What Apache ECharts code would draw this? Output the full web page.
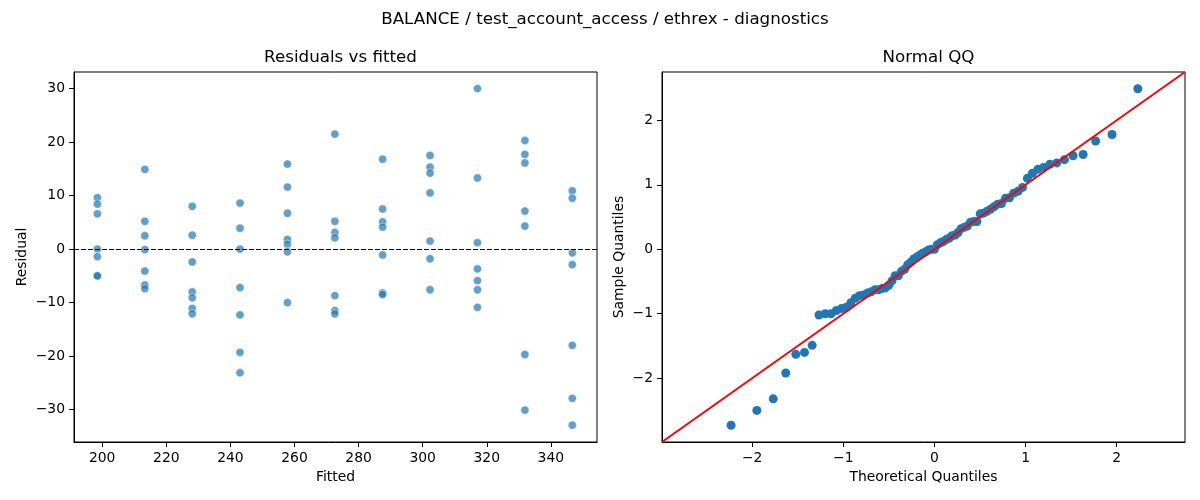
<!DOCTYPE html>
<html lang="en">
<head>
<meta charset="UTF-8">
<title>BALANCE / test_account_access / ethrex - diagnostics</title>
<script src="https://cdn.jsdelivr.net/npm/echarts@6.0.0/dist/echarts.min.js"></script>
<style>
    body {
        margin: 0;
        padding: 0;
        background: #fff;
    }

    #main {
        width: 1200px;
        height: 500px;
    }
</style>
</head>
<body>
<div id="main"></div>
<script>
    // fitted value of each group (x of the left panel)
    var fitted = [198.5, 213.3, 228.1, 243.0, 257.8, 272.6, 287.5, 302.3, 317.1, 331.9, 346.7];

    // residuals read per fitted group
    var residuals = [
        [9.6, 8.4, 6.6, 0.0, -1.4, -5.0, -5.0],
        [14.9, 5.2, 2.5, -0.1, -4.1, -6.7, -7.4],
        [8.0, 2.6, -2.4, -8.0, -9.1, -11.1, -12.1],
        [8.6, 3.9, 0.0, -7.2, -12.3, -19.3, -23.1],
        [15.9, 11.6, 6.7, 1.8, 0.9, -0.5, -10.0],
        [21.5, 5.2, 3.1, 2.1, -8.7, -11.5, -12.1],
        [16.8, 7.5, 5.1, 4.1, -1.1, -8.2, -8.5],
        [17.5, 15.3, 14.2, 10.5, 1.5, -1.8, -7.6],
        [30.0, 13.3, 1.2, -3.7, -5.9, -7.6, -10.9],
        [20.3, 17.7, 16.1, 7.1, 4.3, -19.7, -30.1],
        [10.9, 9.5, -0.7, -2.9, -18.0, -27.9, -32.9]
    ];

    // normal QQ: theoretical and sample quantiles
    var theoQ = [
        -2.232, -1.949, -1.769, -1.632, -1.521, -1.426, -1.342, -1.267, -1.198, -1.135,
        -1.076, -1.020, -0.967, -0.917, -0.869, -0.823, -0.779, -0.736, -0.695, -0.654,
        -0.615, -0.577, -0.539, -0.502, -0.466, -0.431, -0.396, -0.361, -0.327, -0.293,
        -0.260, -0.227, -0.194, -0.161, -0.129, -0.097, -0.064, -0.032, 0.000, 0.032,
        0.064, 0.097, 0.129, 0.161, 0.194, 0.227, 0.260, 0.293, 0.327, 0.361,
        0.396, 0.431, 0.466, 0.502, 0.539, 0.577, 0.615, 0.654, 0.695, 0.736,
        0.779, 0.823, 0.869, 0.917, 0.967, 1.020, 1.076, 1.135, 1.198, 1.267,
        1.342, 1.426, 1.521, 1.632, 1.769, 1.949, 2.232
    ];
    var sampleQ = [
        -2.73, -2.50, -2.32, -1.92, -1.63, -1.60, -1.49, -1.02, -1.00, -1.00,
        -0.95, -0.92, -0.90, -0.83, -0.76, -0.72, -0.71, -0.68, -0.66, -0.63,
        -0.63, -0.61, -0.60, -0.56, -0.49, -0.41, -0.41, -0.34, -0.31, -0.24,
        -0.20, -0.15, -0.12, -0.09, -0.06, -0.04, -0.01, 0.00, 0.00, 0.07,
        0.10, 0.12, 0.15, 0.17, 0.21, 0.22, 0.26, 0.32, 0.34, 0.36,
        0.42, 0.43, 0.43, 0.55, 0.56, 0.59, 0.62, 0.66, 0.70, 0.71,
        0.79, 0.80, 0.87, 0.90, 0.96, 1.10, 1.18, 1.24, 1.27, 1.32,
        1.34, 1.39, 1.45, 1.47, 1.68, 1.78, 2.49
    ];

    // tick labels
    var fittedTicks = [200, 220, 240, 260, 280, 300, 320, 340];
    var residTicks = [-30, -20, -10, 0, 10, 20, 30];
    var qqTicks = [-2, -1, 0, 1, 2];

    // axis limits
    var fittedRange = [191.2, 354.4];
    var residRange = [-36.05, 33.1];
    var qqRange = [-2.99, 2.75];

    var FONT = 'DejaVu Sans';

    var residData = [];
    fitted.forEach(function (f, i) {
        residuals[i].forEach(function (r) {
            residData.push([f, r]);
        });
    });

    var qqData = theoQ.map(function (t, i) {
        return [t, sampleQ[i]];
    });

    function makeAxis(gridIndex, range, ticks, name, nameGap) {
        return {
            type: 'value',
            gridIndex: gridIndex,
            min: range[0],
            max: range[1],
            name: name,
            nameLocation: 'middle',
            nameGap: nameGap,
            nameTextStyle: { color: '#000', fontSize: 13.9, fontFamily: FONT },
            axisLine: { show: true, onZero: false, lineStyle: { color: '#000', width: 1 } },
            axisTick: {
                show: true,
                length: 5,
                customValues: ticks,
                lineStyle: { color: '#000', width: 1 }
            },
            axisLabel: {
                color: '#000',
                fontSize: 13.9,
                fontFamily: FONT,
                margin: 9,
                customValues: ticks,
                formatter: function (v) {
                    return String(v).replace('-', '\u2212');
                }
            },
            splitLine: { show: false }
        };
    }

    var chart = echarts.init(document.getElementById('main'), null, { renderer: 'canvas' });

    var option = {
        animation: false,
        backgroundColor: '#fff',
        textStyle: { fontFamily: FONT },
        title: [
            {
                text: 'BALANCE / test_account_access / ethrex - diagnostics',
                left: 600,
                textAlign: 'center',
                top: 6,
                textStyle: { color: '#000', fontSize: 16.7, fontWeight: 'normal', fontFamily: FONT }
            },
            {
                text: 'Residuals vs fitted',
                left: 335.5,
                textAlign: 'center',
                top: 44,
                textStyle: { color: '#000', fontSize: 16.7, fontWeight: 'normal', fontFamily: FONT }
            },
            {
                text: 'Normal QQ',
                left: 923.5,
                textAlign: 'center',
                top: 44,
                textStyle: { color: '#000', fontSize: 16.7, fontWeight: 'normal', fontFamily: FONT }
            }
        ],
        grid: [
            { left: 74, top: 72, width: 523, height: 370, show: true, borderColor: '#000', borderWidth: 1 },
            { left: 662, top: 72, width: 523, height: 370, show: true, borderColor: '#000', borderWidth: 1 }
        ],
        xAxis: [
            makeAxis(0, fittedRange, fittedTicks, 'Fitted', 28),
            makeAxis(1, qqRange, qqTicks, 'Theoretical Quantiles', 28)
        ],
        yAxis: [
            makeAxis(0, residRange, residTicks, 'Residual', 45),
            makeAxis(1, qqRange, qqTicks, 'Sample Quantiles', 36)
        ],
        series: [
            {
                name: 'residuals',
                type: 'scatter',
                xAxisIndex: 0,
                yAxisIndex: 0,
                symbolSize: 8.3,
                itemStyle: {
                    color: '#1f77b4',
                    borderColor: '#fff',
                    borderWidth: 0.7,
                    opacity: 0.7
                },
                data: residData,
                markLine: {
                    silent: true,
                    symbol: ['none', 'none'],
                    label: { show: false },
                    lineStyle: { color: '#000', width: 1, type: [5, 2], opacity: 1 },
                    data: [{ yAxis: 0 }]
                }
            },
            {
                name: 'qq',
                type: 'scatter',
                xAxisIndex: 1,
                yAxisIndex: 1,
                symbolSize: 9,
                itemStyle: { color: '#1f77b4', opacity: 1 },
                data: qqData
            },
            {
                name: '45 line',
                type: 'line',
                xAxisIndex: 1,
                yAxisIndex: 1,
                z: 5,
                showSymbol: false,
                lineStyle: { color: '#ff0000', width: 2 },
                data: [[qqRange[0], qqRange[0]], [qqRange[1], qqRange[1]]]
            }
        ]
    };

    chart.setOption(option);
</script>
</body>
</html>
